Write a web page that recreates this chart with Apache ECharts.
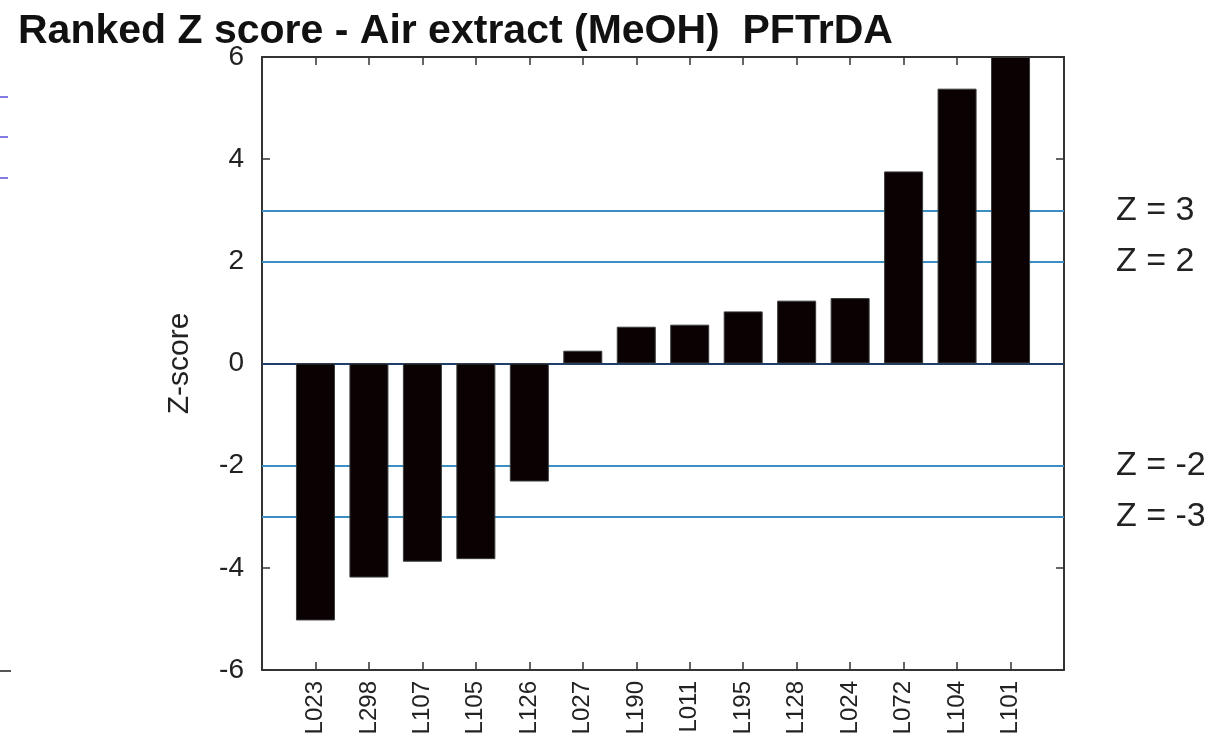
<!DOCTYPE html>
<html>
<head>
<meta charset="utf-8">
<script src="https://cdn.jsdelivr.net/npm/echarts@6/dist/echarts.min.js"></script>
<style>html,body{margin:0;padding:0;background:#fff}#c{width:1230px;height:742px}</style>
</head>
<body>
<div id="c"></div>
<script>
const titleText = 'Ranked Z score - Air extract (MeOH)  PFTrDA';
const labs = ['L023','L298','L107','L105','L126','L027','L190','L011','L195','L128','L024','L072','L104','L101'];
const zScores = [-5.03,-4.19,-3.88,-3.83,-2.31,0.25,0.72,0.76,1.02,1.23,1.28,3.76,5.38,6.0];
const refLevels = [3,2,-2,-3];
const refLabels = ['Z = 3','Z = 2','Z = -2','Z = -3'];
const yTicks = [-6,-4,-2,0,2,4,6];

const FONT = 'Liberation Sans, Arial, Helvetica, sans-serif';
const cats = [''].concat(labs, ['']);
const seriesData = [null].concat(zScores, [null]);
const inner = (i) => i > 0 && i < cats.length - 1;

const chart = echarts.init(document.getElementById('c'), null, {renderer:'canvas'});
const refMarks = refLevels.map((v, i) => ({
  yAxis: v,
  lineStyle: {color:'#3a8fc0', width:2, type:'solid'},
  label: {show:true, position:'end', formatter: refLabels[i], distance: 52,
          color:'#222', fontSize:34, fontFamily:FONT}
}));
refMarks.push({yAxis:0, lineStyle:{color:'#1d3f6a', width:2, type:'solid'}, label:{show:false}});

chart.setOption({
  animation:false,
  backgroundColor:'#fff',
  title:{text:titleText, left:13, top:6,
    textStyle:{fontSize:41, fontWeight:'bold', color:'#111', fontFamily:FONT}},
  grid:{left:262, right:166, top:57, bottom:72, containLabel:false},
  xAxis:[{
    type:'category', data:cats, boundaryGap:false, position:'bottom',
    axisLine:{show:true, onZero:false, lineStyle:{color:'#333', width:2}},
    axisTick:{show:true, inside:true, length:8, interval:(i)=>inner(i), lineStyle:{color:'#333', width:1.5}},
    axisLabel:{show:true, rotate:90, interval:(i)=>inner(i), margin:11, fontSize:24, color:'#222', fontFamily:FONT},
    splitLine:{show:false}
  },{
    type:'category', data:cats, boundaryGap:false, position:'top',
    axisLine:{show:true, onZero:false, lineStyle:{color:'#333', width:2}},
    axisTick:{show:true, inside:true, length:8, interval:(i)=>inner(i), lineStyle:{color:'#333', width:1.5}},
    axisLabel:{show:false}, splitLine:{show:false}
  }],
  yAxis:[{
    type:'value', min:yTicks[0], max:yTicks[yTicks.length-1], interval:2, position:'left',
    name:'Z-score', nameLocation:'middle', nameGap:67, nameRotate:90,
    nameTextStyle:{fontSize:30, color:'#222', fontFamily:FONT},
    axisLine:{show:true, lineStyle:{color:'#333', width:2}},
    axisTick:{show:true, inside:true, length:8, lineStyle:{color:'#333', width:1.5}},
    axisLabel:{show:true, margin:18, fontSize:28, color:'#222', fontFamily:FONT},
    splitLine:{show:false}
  },{
    type:'value', min:yTicks[0], max:yTicks[yTicks.length-1], interval:2, position:'right',
    axisLine:{show:true, lineStyle:{color:'#333', width:2}},
    axisTick:{show:true, inside:true, length:8, lineStyle:{color:'#333', width:1.5}},
    axisLabel:{show:false}, splitLine:{show:false}
  }],
  series:[{
    type:'bar', data:seriesData, barWidth:39, xAxisIndex:0, yAxisIndex:0,
    itemStyle:{color:'#0a0202', borderColor:'#3a3a3a', borderWidth:1},
    markLine:{symbol:['none','none'], silent:true, animation:false, z:1, data:refMarks}
  }],
  graphic:[
    {type:'line', shape:{x1:0,y1:97,x2:8,y2:97}, style:{stroke:'#5a4fd8', lineWidth:1.5}},
    {type:'line', shape:{x1:0,y1:137,x2:8,y2:137}, style:{stroke:'#5a4fd8', lineWidth:1.5}},
    {type:'line', shape:{x1:0,y1:178,x2:8,y2:178}, style:{stroke:'#5a4fd8', lineWidth:1.5}},
    {type:'line', shape:{x1:0,y1:671,x2:11,y2:671}, style:{stroke:'#555', lineWidth:2}}
  ]
});
</script>
</body>
</html>
